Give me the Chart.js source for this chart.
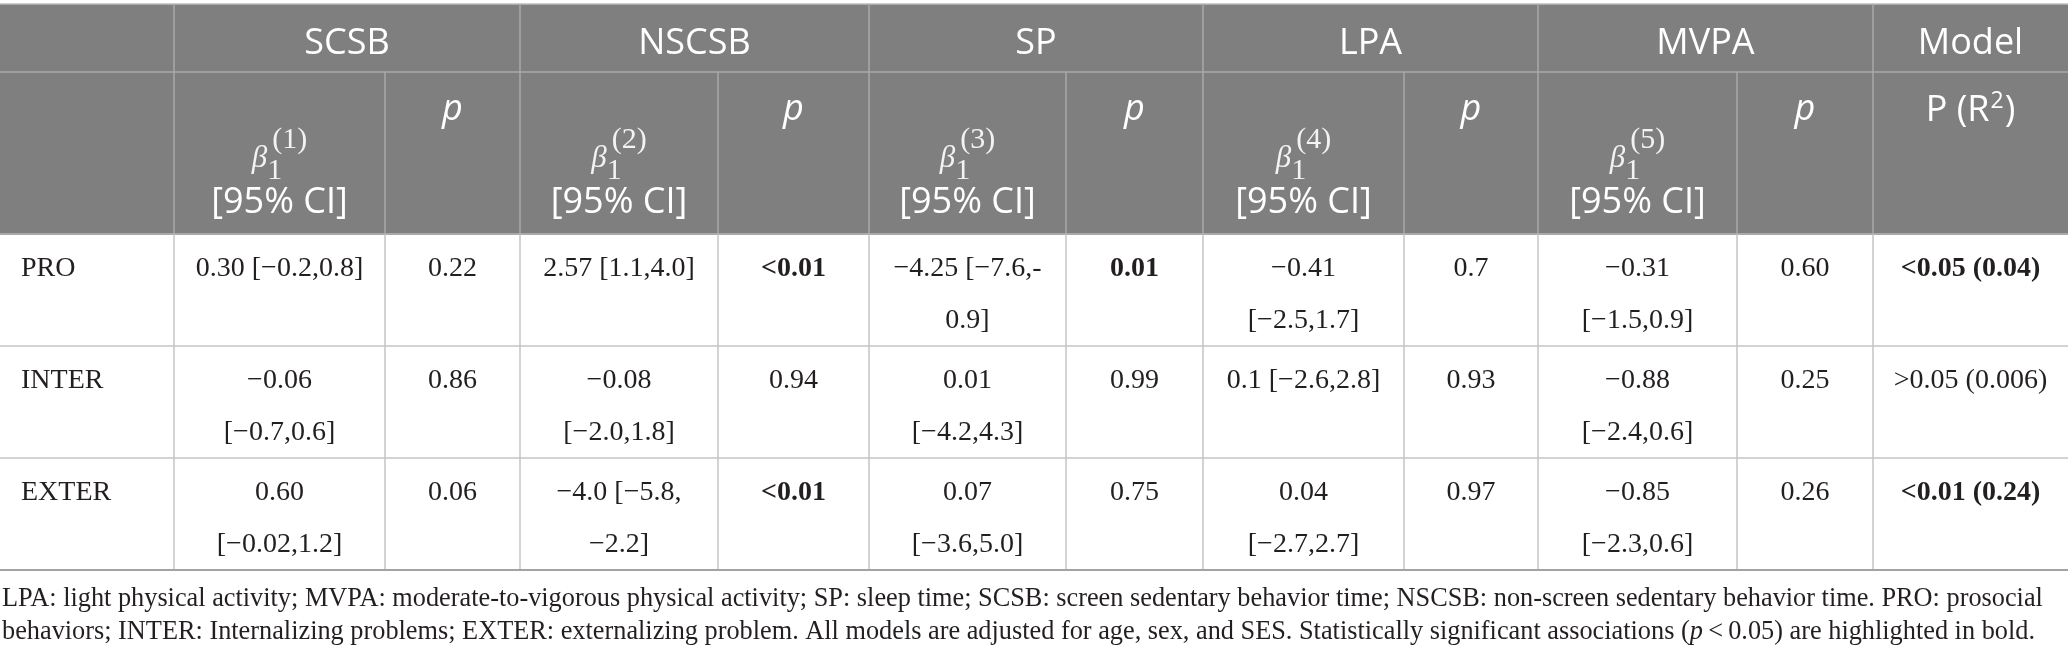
<!DOCTYPE html>
<html>
<head>
<meta charset="utf-8">
<script src="https://cdn.jsdelivr.net/npm/chart.js@4.4.1/dist/chart.umd.min.js"></script>
<style>
html, body { margin: 0; padding: 0; background: #fff; }
#wrap { width: 2068px; height: 660px; }
</style>
</head>
<body>
<div id="wrap"><canvas id="myChart" width="2068" height="660"></canvas></div>
<script>
// table data
const groups = ['SCSB', 'NSCSB', 'SP', 'LPA', 'MVPA'];
const outcomes = ['PRO', 'INTER', 'EXTER'];

const betaPRO = ['0.30', '2.57', '\u22124.25', '\u22120.41', '\u22120.31'];
const ciPRO = ['[\u22120.2,0.8]', '[1.1,4.0]', '[\u22127.6,-0.9]', '[\u22122.5,1.7]', '[\u22121.5,0.9]'];
const pPRO = ['0.22', '<0.01', '0.01', '0.7', '0.60'];

const betaINTER = ['\u22120.06', '\u22120.08', '0.01', '0.1', '\u22120.88'];
const ciINTER = ['[\u22120.7,0.6]', '[\u22122.0,1.8]', '[\u22124.2,4.3]', '[\u22122.6,2.8]', '[\u22122.4,0.6]'];
const pINTER = ['0.86', '0.94', '0.99', '0.93', '0.25'];

const betaEXTER = ['0.60', '\u22124.0', '0.07', '0.04', '\u22120.85'];
const ciEXTER = ['[\u22120.02,1.2]', '[\u22125.8,\u22122.2]', '[\u22123.6,5.0]', '[\u22122.7,2.7]', '[\u22122.3,0.6]'];
const pEXTER = ['0.06', '<0.01', '0.75', '0.97', '0.26'];

const modelP = ['<0.05 (0.04)', '>0.05 (0.006)', '<0.01 (0.24)'];

const noteParts = [
  ['LPA: light physical activity; MVPA: moderate-to-vigorous physical activity; SP: sleep time; SCSB: screen sedentary behavior time; NSCSB: non-screen sedentary behavior time. PRO: prosocial behaviors; INTER: Internalizing problems; EXTER: externalizing problem. All models are adjusted for age, sex, and SES. Statistically significant associations (', false],
  ['p', true],
  ['\u2009<\u20090.05) are highlighted in bold.', false]
];

const betas = [betaPRO, betaINTER, betaEXTER];
const cis = [ciPRO, ciINTER, ciEXTER];
const pvals = [pPRO, pINTER, pEXTER];

// layout (in scale units = px)
const colEdges = [0, 174, 385, 520, 718, 869, 1066, 1203, 1404, 1538, 1737, 1873, 2068];
const rowEdges = [4, 72, 234, 346, 458, 570];

const serif = '"Liberation Serif", "Times New Roman", serif';
const sans = '"Open Sans", "Noto Sans", sans-serif';
const textColor = '#231f20';

function isSig(s) {
  if (s.startsWith('<')) return true;
  if (s.startsWith('>')) return false;
  return parseFloat(s) < 0.05;
}

// break after spaces, after ascii hyphen, and between "," and minus
function wrapText(ctx, text, maxW) {
  const pieces = [];
  let cur = '';
  for (let i = 0; i < text.length; i++) {
    const c = text[i];
    cur += c;
    const next = text[i + 1];
    if (c === ' ' || c === '-' || (c === ',' && next === '\u2212')) {
      pieces.push(cur);
      cur = '';
    }
  }
  if (cur) pieces.push(cur);
  const lines = [];
  let line = '';
  pieces.forEach(p => {
    const test = line + p;
    if (line === '' || ctx.measureText(test.trimEnd()).width <= maxW) {
      line = test;
    } else {
      lines.push(line.trimEnd());
      line = p;
    }
  });
  if (line) lines.push(line.trimEnd());
  return lines;
}

const tablePlugin = {
  id: 'tablePlugin',
  beforeDatasetsDraw(chart) {
    const ctx = chart.ctx;
    const xs = chart.scales.x, ys = chart.scales.y;
    const X = v => xs.getPixelForValue(v);
    const Y = v => ys.getPixelForValue(v);
    const C = i => X(colEdges[i]);
    const R = i => Y(rowEdges[i]);
    ctx.save();

    // header background
    ctx.fillStyle = '#7f7f7f';
    ctx.fillRect(C(0), R(0), C(12) - C(0), R(2) - R(0));

    const line = (x1, y1, x2, y2, col, w) => {
      ctx.strokeStyle = col;
      ctx.lineWidth = w || 1.5;
      ctx.beginPath();
      ctx.moveTo(x1, y1);
      ctx.lineTo(x2, y2);
      ctx.stroke();
    };

    // header grid
    const hcol = '#a9a9a9';
    line(C(0), R(0), C(12), R(0), '#bdbdbd');
    line(C(0), R(1), C(12), R(1), hcol);
    [1, 3, 5, 7, 9, 11].forEach(i => line(C(i), R(0), C(i), R(2), hcol));
    [2, 4, 6, 8, 10].forEach(i => line(C(i), R(1), C(i), R(2), hcol));

    // body grid
    const bcol = '#c4c4c4';
    line(C(0), R(2), C(12), R(2), '#a9a9a9', 2);
    line(C(0), R(3), C(12), R(3), bcol);
    line(C(0), R(4), C(12), R(4), bcol);
    for (let i = 1; i <= 11; i++) line(C(i), R(2), C(i), R(5), bcol);
    line(C(0), R(5), C(12), R(5), '#a3a3a3', 2);

    // header row 1
    ctx.fillStyle = '#ffffff';
    ctx.textAlign = 'center';
    ctx.textBaseline = 'alphabetic';
    ctx.font = '36px ' + sans;
    groups.forEach((g, k) => {
      ctx.fillText(g, (C(1 + 2 * k) + C(3 + 2 * k)) / 2, R(0) + 50);
    });
    ctx.fillText('Model', (C(11) + C(12)) / 2, R(0) + 50);

    // header row 2
    const h2 = R(1);
    groups.forEach((g, k) => {
      const cx = (C(1 + 2 * k) + C(2 + 2 * k)) / 2;
      // beta_1^(k)
      ctx.fillStyle = '#f3f3f3';
      ctx.textAlign = 'left';
      ctx.font = 'italic 31px ' + serif;
      const wb = ctx.measureText('\u03b2').width;
      ctx.font = '30px ' + serif;
      const ws = ctx.measureText('1').width;
      const sup = '(' + (k + 1) + ')';
      const wsup = ctx.measureText(sup).width;
      const total = wb + Math.max(ws, wsup + 5);
      const x0 = cx - total / 2;
      ctx.font = 'italic 31px ' + serif;
      ctx.fillText('\u03b2', x0, h2 + 95);
      ctx.font = '30px ' + serif;
      ctx.fillText('1', x0 + wb, h2 + 107);
      ctx.fillText(sup, x0 + wb + 5, h2 + 76);
      ctx.fillStyle = '#ffffff';
      ctx.textAlign = 'center';
      ctx.font = '36px ' + sans;
      ctx.fillText('[95% CI]', cx, h2 + 141);
      // p
      ctx.font = 'italic 36px ' + sans;
      ctx.fillText('p', (C(2 + 2 * k) + C(3 + 2 * k)) / 2, h2 + 48);
    });
    // P (R2)
    {
      const cx = (C(11) + C(12)) / 2;
      ctx.font = '36px ' + sans;
      const a = 'P (R', b = ')';
      const wa = ctx.measureText(a).width, wbb = ctx.measureText(b).width;
      ctx.font = '23px ' + sans;
      const w2 = ctx.measureText('2').width;
      const x0 = cx - (wa + w2 + 2 + wbb) / 2;
      ctx.textAlign = 'left';
      ctx.font = '36px ' + sans;
      ctx.fillText(a, x0, h2 + 49);
      ctx.fillText(b, x0 + wa + w2 + 2, h2 + 49);
      ctx.font = '23px ' + sans;
      ctx.fillText('2', x0 + wa + 1, h2 + 36);
    }

    // body
    ctx.fillStyle = textColor;
    const lh = 52;
    outcomes.forEach((o, r) => {
      const top = R(2 + r);
      const base = top + 42;
      ctx.textAlign = 'left';
      ctx.font = '28px ' + serif;
      ctx.fillText(o, C(0) + 21, base);
      ctx.textAlign = 'center';
      groups.forEach((g, k) => {
        const l = C(1 + 2 * k), m = C(2 + 2 * k), rr = C(3 + 2 * k);
        ctx.font = '28px ' + serif;
        const lines = wrapText(ctx, betas[r][k] + ' ' + cis[r][k], m - l - 40);
        lines.forEach((t, i) => ctx.fillText(t, (l + m) / 2, base + i * lh));
        const p = pvals[r][k];
        ctx.font = (isSig(p) ? 'bold ' : '') + '28px ' + serif;
        ctx.fillText(p, (m + rr) / 2, base);
      });
      const mp = modelP[r];
      ctx.font = (isSig(mp) ? 'bold ' : '') + '28px ' + serif;
      ctx.fillText(mp, (C(11) + C(12)) / 2, base);
    });

    // footnote with italic p (words split into styled runs)
    const toks = [];
    noteParts.forEach(([t, it], pi) => {
      const parts = t.split(' ');
      parts.forEach((w, i) => {
        if (w === '') return;
        const startsNew = i > 0 || pi === 0 || noteParts[pi - 1][0].endsWith(' ');
        if (startsNew || toks.length === 0) toks.push([[w, it]]);
        else toks[toks.length - 1].push([w, it]);
      });
    });
    const nfont = it => (it ? 'italic ' : '') + '26.3px ' + serif;
    const tokW = tok => tok.reduce((s, [w, it]) => { ctx.font = nfont(it); return s + ctx.measureText(w).width; }, 0);
    ctx.font = nfont(false);
    const space = ctx.measureText(' ').width;
    const maxW = C(12) - C(0) - 6;
    const nlines = [[]];
    let cw = 0;
    toks.forEach(tok => {
      const w = tokW(tok);
      const cur = nlines[nlines.length - 1];
      if (cur.length && cw + space + w > maxW) {
        nlines.push([tok]);
        cw = w;
      } else {
        cw += (cur.length ? space : 0) + w;
        cur.push(tok);
      }
    });
    ctx.textAlign = 'left';
    ctx.fillStyle = textColor;
    nlines.forEach((ln, i) => {
      let x = C(0) + 2;
      const yb = R(5) + 36 + i * 33;
      ln.forEach((tok, j) => {
        if (j > 0) x += space;
        tok.forEach(([w, it]) => {
          ctx.font = nfont(it);
          ctx.fillText(w, x, yb);
          x += ctx.measureText(w).width;
        });
      });
    });

    ctx.restore();
  }
};

const ctx = document.getElementById('myChart').getContext('2d');
const myChart = new Chart(ctx, {
  type: 'scatter',
  data: { datasets: [] },
  options: {
    responsive: false,
    maintainAspectRatio: false,
    animation: false,
    events: [],
    layout: { padding: 0 },
    plugins: { legend: { display: false }, tooltip: { enabled: false } },
    scales: {
      x: { type: 'linear', min: 0, max: 2068, display: false },
      y: { type: 'linear', min: 0, max: 660, reverse: true, display: false }
    }
  },
  plugins: [tablePlugin]
});
</script>
</body>
</html>
